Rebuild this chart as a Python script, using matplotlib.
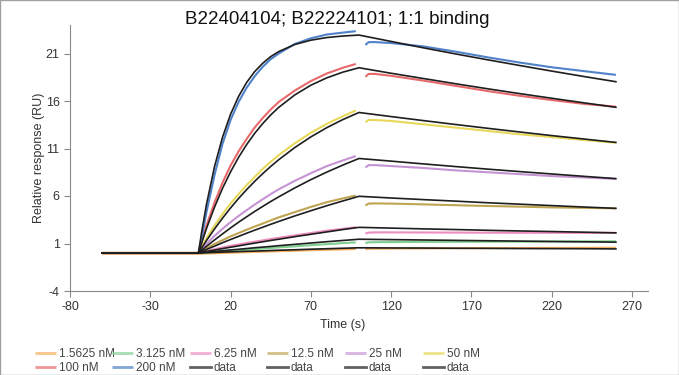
import matplotlib.pyplot as plt
from matplotlib.patches import Rectangle

plt.rcParams['font.family'] = ['Liberation Sans', 'DejaVu Sans']
plt.rcParams['axes.unicode_minus'] = False

concs = ['1.5625 nM', '3.125 nM', '6.25 nM', '12.5 nM', '25 nM', '50 nM', '100 nM', '200 nM']
colors = ['#f3ac5c', '#7fd08f', '#ef8cc0', '#bfa452', '#c593d4', '#e8d85a', '#e8696b', '#4f82c8']

# fitted 1:1 curves (black)
t_fit = [-60, 0, 2, 5, 10, 15, 20, 25, 30, 35, 40, 45, 50, 60, 70, 80, 90, 100,
         120, 140, 160, 180, 200, 220, 240, 260]
fit_1p5625 = [0, 0, 0.01, 0.03, 0.06, 0.09, 0.12, 0.15, 0.18, 0.20, 0.23, 0.26, 0.29, 0.34, 0.40, 0.45, 0.50, 0.55,
              0.53, 0.52, 0.50, 0.49, 0.47, 0.46, 0.45, 0.43]
fit_3p125 = [0, 0, 0.03, 0.08, 0.16, 0.24, 0.32, 0.39, 0.47, 0.55, 0.62, 0.69, 0.77, 0.91, 1.05, 1.19, 1.32, 1.45,
             1.41, 1.37, 1.33, 1.29, 1.25, 1.21, 1.18, 1.14]
fit_6p25 = [0, 0, 0.06, 0.16, 0.31, 0.46, 0.61, 0.75, 0.90, 1.04, 1.18, 1.32, 1.45, 1.72, 1.97, 2.22, 2.47, 2.70,
            2.62, 2.54, 2.47, 2.39, 2.32, 2.26, 2.19, 2.12]
fit_12p5 = [0, 0, 0.15, 0.37, 0.72, 1.08, 1.42, 1.75, 2.08, 2.40, 2.71, 3.02, 3.32, 3.90, 4.45, 4.98, 5.48, 5.97,
            5.79, 5.62, 5.46, 5.29, 5.14, 4.99, 4.84, 4.70]
fit_25 = [0, 0, 0.28, 0.70, 1.37, 2.01, 2.64, 3.24, 3.81, 4.37, 4.90, 5.42, 5.91, 6.85, 7.72, 8.52, 9.26, 9.95,
          9.67, 9.38, 9.10, 8.83, 8.57, 8.32, 8.07, 7.83]
fit_50 = [0, 0, 0.53, 1.31, 2.53, 3.67, 4.74, 5.74, 6.67, 7.54, 8.35, 9.11, 9.82, 11.10, 12.22, 13.20, 14.05, 14.79,
          14.36, 13.94, 13.53, 13.13, 12.74, 12.36, 12.00, 11.64]
fit_100 = [0, 0, 1.07, 2.57, 4.82, 6.81, 8.54, 10.07, 11.41, 12.59, 13.62, 14.53, 15.33, 16.64, 17.66, 18.44, 19.04,
           19.50, 18.92, 18.37, 17.82, 17.29, 16.78, 16.29, 15.81, 15.34]
fit_200 = [0, 0, 2.20, 5.11, 9.09, 12.19, 14.60, 16.48, 17.95, 19.09, 19.97, 20.67, 21.20, 21.95, 22.40, 22.68, 22.84,
           22.94, 22.27, 21.60, 20.96, 20.34, 19.74, 19.15, 18.58, 18.03]

# measured sensorgrams (coloured)
t_assoc = [-60, 0, 2, 5, 10, 15, 20, 25, 30, 35, 40, 45, 50, 60, 70, 80, 90, 98]
t_dissoc = [104, 106, 110, 120, 140, 160, 180, 200, 220, 240, 260]
assoc_1p5625 = [-0.08, -0.08, -0.07, -0.05, -0.03, 0.0, 0.03, 0.06, 0.09, 0.115, 0.14, 0.165, 0.19, 0.24, 0.29,
                0.34, 0.38, 0.42]
assoc_3p125 = [0, 0, 0.02, 0.05, 0.11, 0.17, 0.23, 0.29, 0.35, 0.41, 0.47, 0.53, 0.59, 0.70, 0.82, 0.93, 1.04, 1.12]
assoc_6p25 = [0, 0, 0.08, 0.2, 0.4, 0.58, 0.75, 0.9, 1.05, 1.19, 1.33, 1.47, 1.6, 1.85, 2.1, 2.35, 2.55, 2.72]
assoc_12p5 = [0, 0, 0.2, 0.5, 0.95, 1.35, 1.75, 2.1, 2.45, 2.78, 3.1, 3.43, 3.75, 4.3, 4.85, 5.35, 5.75, 6.05]
assoc_25 = [0, 0, 0.4, 0.95, 1.8, 2.55, 3.25, 3.9, 4.5, 5.1, 5.65, 6.2, 6.7, 7.6, 8.4, 9.15, 9.75, 10.2]
assoc_50 = [0, 0, 0.65, 1.55, 2.9, 4.1, 5.2, 6.2, 7.15, 8.0, 8.85, 9.6, 10.3, 11.55, 12.65, 13.6, 14.4, 15.0]
assoc_100 = [0, 0, 1.2, 2.9, 5.3, 7.4, 9.2, 10.7, 12.0, 13.2, 14.2, 15.1, 15.9, 17.1, 18.1, 18.9, 19.5, 19.9]
assoc_200 = [0, 0, 1.6, 4.3, 8.2, 11.5, 14.0, 15.9, 17.4, 18.6, 19.6, 20.4, 21.0, 22.0, 22.6, 23.0, 23.2, 23.35]

dissoc_1p5625 = [0.4, 0.45, 0.46, 0.47, 0.48, 0.5, 0.51, 0.52, 0.53, 0.54, 0.55]
dissoc_3p125 = [1.05, 1.12, 1.14, 1.15, 1.17, 1.18, 1.19, 1.2, 1.21, 1.22, 1.23]
dissoc_6p25 = [2.05, 2.15, 2.17, 2.17, 2.16, 2.15, 2.14, 2.13, 2.13, 2.12, 2.12]
dissoc_12p5 = [5.0, 5.2, 5.22, 5.2, 5.12, 5.03, 4.95, 4.88, 4.8, 4.75, 4.7]
dissoc_25 = [9.0, 9.25, 9.25, 9.15, 8.95, 8.7, 8.5, 8.3, 8.1, 7.95, 7.8]
dissoc_50 = [13.75, 14.0, 14.0, 13.9, 13.55, 13.2, 12.85, 12.5, 12.2, 11.9, 11.6]
dissoc_100 = [18.55, 18.85, 18.85, 18.65, 18.15, 17.6, 17.05, 16.55, 16.1, 15.7, 15.4]
dissoc_200 = [21.9, 22.2, 22.2, 22.1, 21.75, 21.2, 20.6, 20.05, 19.55, 19.15, 18.75]

assoc = [assoc_1p5625, assoc_3p125, assoc_6p25, assoc_12p5, assoc_25, assoc_50, assoc_100, assoc_200]
dissoc = [dissoc_1p5625, dissoc_3p125, dissoc_6p25, dissoc_12p5, dissoc_25, dissoc_50, dissoc_100, dissoc_200]
fits = [fit_1p5625, fit_3p125, fit_6p25, fit_12p5, fit_25, fit_50, fit_100, fit_200]

fig = plt.figure(figsize=(6.79, 3.75), dpi=100)
ax = fig.add_axes([70 / 679, 1 - 291 / 375, 578 / 679, 266 / 375])

handles = []
for a, d, c, lab in zip(assoc, dissoc, colors, concs):
    h, = ax.plot(t_assoc, a, color=c, lw=1.5, label=lab, solid_capstyle='butt')
    ax.plot(t_dissoc, d, color=c, lw=1.5, solid_capstyle='butt')
    handles.append(h)

black = []
for f in fits:
    h, = ax.plot(t_fit, f, color='#1e1e1e', lw=1.2, label='data')
    black.append(h)
handles += black[:4]

ax.set_xlim(-80, 280)
ax.set_ylim(-4, 24)
ax.set_xticks(range(-80, 271, 50))
ax.set_yticks(range(-4, 22, 5))
for s in ['top', 'right']:
    ax.spines[s].set_visible(False)
for s in ['left', 'bottom']:
    ax.spines[s].set_color('#8a8a8a')
ax.tick_params(colors='#8a8a8a', labelcolor='#333333', labelsize=9, length=4, direction='out')

ax.set_xlabel('Time (s)', fontsize=9, color='#333333')
ax.xaxis.set_label_coords((343 - 70) / 578, -0.105)
ax.set_ylabel('Relative response (RU)', fontsize=9, color='#333333')
ax.yaxis.set_label_coords(-0.043, 0.5)

fig.text(337 / 679, 1 - 20 / 375, 'B22404104; B22224101; 1:1 binding', ha='center', va='center',
         fontsize=13.5, color='#111111')

col_x = [35, 112, 190, 267, 345, 423]
for j, x in enumerate(col_x):
    leg = fig.legend(handles=[handles[j], handles[j + 6]], loc='upper left',
                     bbox_to_anchor=(x / 679, 1 - 348 / 375), frameon=False,
                     fontsize=8.5, handlelength=1.75, handletextpad=0.25,
                     borderpad=0, borderaxespad=0, labelspacing=0.15)
    for line in leg.get_lines():
        line.set_alpha(0.7)
        line.set_linewidth(2)
    for txt in leg.get_texts():
        txt.set_color('#444444')

fig.add_artist(Rectangle((0.0007, 0.0013), 0.9986, 0.9974, transform=fig.transFigure,
                         fill=False, edgecolor='#a0a0a0', lw=1))

fig.savefig('out.png', dpi=100)
